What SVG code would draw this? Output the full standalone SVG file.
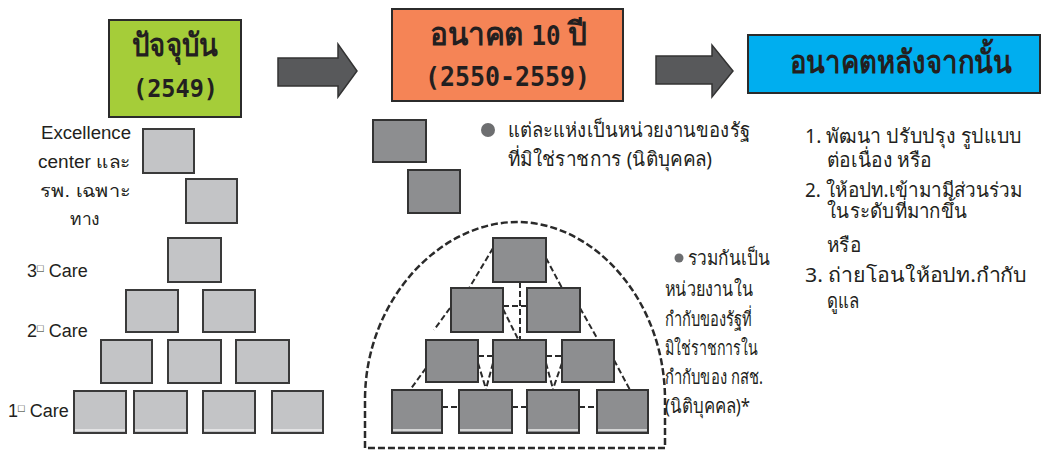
<svg xmlns="http://www.w3.org/2000/svg" width="1051" height="451" viewBox="0 0 1051 451">
<style>
.bg{fill:#ffffff}
.hdr{stroke:#2b2b2b;stroke-width:2}
.lb{fill:#c3c4c6;stroke:#3a3a3a;stroke-width:2}
.db{fill:#8d8e90;stroke:#333333;stroke-width:2}
.hl{stroke:#eeeeee;stroke-width:1.5}
.arrow{fill:#58595b;stroke:#333333;stroke-width:1.5}
.dash{fill:none;stroke:#2a2a2a;stroke-width:2;stroke-dasharray:6 3}
.dome{fill:none;stroke:#2a2a2a;stroke-width:2.5;stroke-dasharray:7 3}
.th{font-family:"Noto Sans","DejaVu Sans",sans-serif;font-weight:bold;fill:#231f20}
.num{font-family:"DejaVu Sans Mono","Liberation Mono",monospace;font-weight:bold;fill:#231f20}
.t{font-family:"Liberation Sans","Noto Sans","DejaVu Sans",sans-serif;font-size:18px;fill:#231f20}
.tt{font-family:"Noto Sans","DejaVu Sans",sans-serif;font-size:20px;fill:#231f20}
</style>
<rect class="bg" x="0" y="0" width="1051" height="451"/>

<g id="now-header">
<rect class="hdr" x="109" y="20" width="132" height="97" fill="#a5cd39"/>
<text class="th" x="132" y="56" font-size="32" textLength="86" lengthAdjust="spacingAndGlyphs">ปัจจุบัน</text>
<text class="num" x="133" y="97" font-size="25" textLength="85" lengthAdjust="spacingAndGlyphs">(2549)</text>
</g>

<g id="future10-header">
<rect class="hdr" x="392" y="9" width="231" height="92" fill="#f58456"/>
<text class="th" x="430" y="45" font-size="32" textLength="157" lengthAdjust="spacingAndGlyphs">อนาคต <tspan class="num" font-size="26">10</tspan> ปี</text>
<text class="num" x="425" y="86" font-size="26" textLength="165" lengthAdjust="spacingAndGlyphs">(2550-2559)</text>
</g>

<g id="after-header">
<rect class="hdr" x="748" y="35" width="292" height="58" fill="#00aeef"/>
<text class="th" x="790" y="73" font-size="32" textLength="222" lengthAdjust="spacingAndGlyphs">อนาคตหลังจากนั้น</text>
</g>

<g id="connectors">
<path class="arrow" d="M278 58 L338 58 L338 44 L357 71 L338 97 L338 86 L278 86 Z"/>
<path class="arrow" d="M656 56 L712 56 L712 45 L733 71 L712 97 L712 84 L656 84 Z"/>
<path class="dome" d="M365 448 L365 400 C365 300 440 222 517 222 C594 222 665 300 665 400 L665 448 Z"/>
<path class="dash" d="M493 248 L468 290 M450 308 L434 330 M426 368 L410 390"/>
<path class="dash" d="M546 258 L562 288 M580 308 L597 338 M614 360 L630 390"/>
<path class="dash" d="M520 282 L520 340" stroke-width="3.5"/>
<path class="dash" d="M503 306 L527 306 M503 309 L518 339"/>
<path class="dash" d="M478 356 L493 356 M546 356 L562 356"/>
<path class="dash" d="M478 363 L486 389 M493 363 L486 389 M546 363 L553 389 M562 363 L553 389"/>
<path class="dash" d="M442 407 L459 407 M512 407 L527 407 M579 407 L597 407" stroke-width="3"/>
</g>

<g id="left-labels">
<text class="t" x="41" y="139" textLength="90" lengthAdjust="spacingAndGlyphs">Excellence</text>
<text class="t" x="38" y="168" font-size="21" textLength="93" lengthAdjust="spacingAndGlyphs">center และ</text>
<text class="t" x="40" y="197" font-size="22" textLength="91" lengthAdjust="spacingAndGlyphs">รพ. เฉพาะ</text>
<text class="t" x="70" y="225" font-size="22" textLength="30" lengthAdjust="spacingAndGlyphs">ทาง</text>
<text class="t" x="27" y="277">3<tspan font-size="11" dy="-5">□</tspan><tspan dy="5"> Care</tspan></text>
<text class="t" x="27" y="337">2<tspan font-size="11" dy="-5">□</tspan><tspan dy="5"> Care</tspan></text>
<text class="t" x="8" y="417">1<tspan font-size="11" dy="-5">□</tspan><tspan dy="5"> Care</tspan></text>
</g>

<g id="left-box-1"><rect class="lb" x="143" y="129" width="51" height="44"/></g>
<g id="left-box-2"><rect class="lb" x="186" y="179" width="51" height="44"/></g>
<g id="left-box-3"><rect class="lb" x="168" y="238" width="53" height="44"/></g>
<g id="left-box-4"><rect class="lb" x="126" y="290" width="52" height="42"/></g>
<g id="left-box-5"><rect class="lb" x="203" y="290" width="52" height="42"/></g>
<g id="left-box-6"><rect class="lb" x="101" y="340" width="51" height="43"/></g>
<g id="left-box-7"><rect class="lb" x="168" y="340" width="53" height="43"/></g>
<g id="left-box-8"><rect class="lb" x="236" y="340" width="53" height="43"/></g>
<g id="left-box-9"><rect class="lb" x="74" y="391" width="52" height="42"/><line class="hl" x1="75" y1="430" x2="125" y2="430"/></g>
<g id="left-box-10"><rect class="lb" x="134" y="391" width="53" height="42"/><line class="hl" x1="135" y1="430" x2="186" y2="430"/></g>
<g id="left-box-11"><rect class="lb" x="203" y="391" width="52" height="42"/><line class="hl" x1="204" y1="430" x2="254" y2="430"/></g>
<g id="left-box-12"><rect class="lb" x="272" y="391" width="51" height="42"/><line class="hl" x1="273" y1="430" x2="322" y2="430"/></g>

<g id="mid-box-1"><rect class="db" x="373" y="120" width="53" height="42"/></g>
<g id="mid-box-2"><rect class="db" x="408" y="170" width="52" height="43"/></g>

<g id="mid-note-1">
<circle cx="488" cy="130" r="7" fill="#6d6e70"/>
<text class="tt" x="508" y="137" textLength="242" lengthAdjust="spacingAndGlyphs">แต่ละแห่งเป็นหน่วยงานของรัฐ</text>
<text class="tt" x="508" y="166" textLength="204" lengthAdjust="spacingAndGlyphs">ที่มิใช่ราชการ (นิติบุคคล)</text>
</g>

<g id="dome-box-1"><rect class="db" x="493" y="238" width="53" height="44"/></g>
<g id="dome-box-2"><rect class="db" x="451" y="288" width="52" height="44"/></g>
<g id="dome-box-3"><rect class="db" x="527" y="288" width="53" height="44"/></g>
<g id="dome-box-4"><rect class="db" x="426" y="340" width="52" height="42"/></g>
<g id="dome-box-5"><rect class="db" x="493" y="340" width="53" height="42"/></g>
<g id="dome-box-6"><rect class="db" x="562" y="340" width="52" height="42"/></g>
<g id="dome-box-7"><rect class="db" x="392" y="390" width="50" height="43"/><line class="hl" x1="393" y1="430" x2="441" y2="430"/></g>
<g id="dome-box-8"><rect class="db" x="459" y="390" width="53" height="43"/><line class="hl" x1="460" y1="430" x2="511" y2="430"/></g>
<g id="dome-box-9"><rect class="db" x="527" y="390" width="52" height="43"/><line class="hl" x1="528" y1="430" x2="578" y2="430"/></g>
<g id="dome-box-10"><rect class="db" x="597" y="390" width="51" height="43"/><line class="hl" x1="598" y1="430" x2="647" y2="430"/></g>

<g id="mid-note-2">
<circle cx="679" cy="258" r="4.5" fill="#6d6e70"/>
<text class="tt" x="688" y="265" textLength="82" lengthAdjust="spacingAndGlyphs">รวมกันเป็น</text>
<text class="tt" x="665" y="296" textLength="88" lengthAdjust="spacingAndGlyphs">หน่วยงานใน</text>
<text class="tt" x="665" y="326" textLength="87" lengthAdjust="spacingAndGlyphs">กำกับของรัฐที่</text>
<text class="tt" x="665" y="355" textLength="93" lengthAdjust="spacingAndGlyphs">มิใช่ราชการใน</text>
<text class="tt" x="665" y="384" textLength="98" lengthAdjust="spacingAndGlyphs">กำกับของ กสช.</text>
<text class="tt" x="665" y="413" textLength="85" lengthAdjust="spacingAndGlyphs">(นิติบุคคล)*</text>
</g>

<g id="future-list">
<text class="tt" x="805" y="143" textLength="217" lengthAdjust="spacingAndGlyphs">1. พัฒนา ปรับปรุง รูปแบบ</text>
<text class="tt" x="827" y="167" textLength="105" lengthAdjust="spacingAndGlyphs">ต่อเนื่อง หรือ</text>
<text class="tt" x="805" y="197" textLength="217" lengthAdjust="spacingAndGlyphs">2. ให้อปท.เข้ามามีส่วนร่วม</text>
<text class="tt" x="827" y="218" textLength="140" lengthAdjust="spacingAndGlyphs">ในระดับที่มากขึ้น</text>
<text class="tt" x="827" y="252" textLength="34" lengthAdjust="spacingAndGlyphs">หรือ</text>
<text class="tt" x="805" y="282" textLength="222" lengthAdjust="spacingAndGlyphs">3. ถ่ายโอนให้อปท.กำกับ</text>
<text class="tt" x="827" y="308" textLength="32" lengthAdjust="spacingAndGlyphs">ดูแล</text>
</g>
</svg>
